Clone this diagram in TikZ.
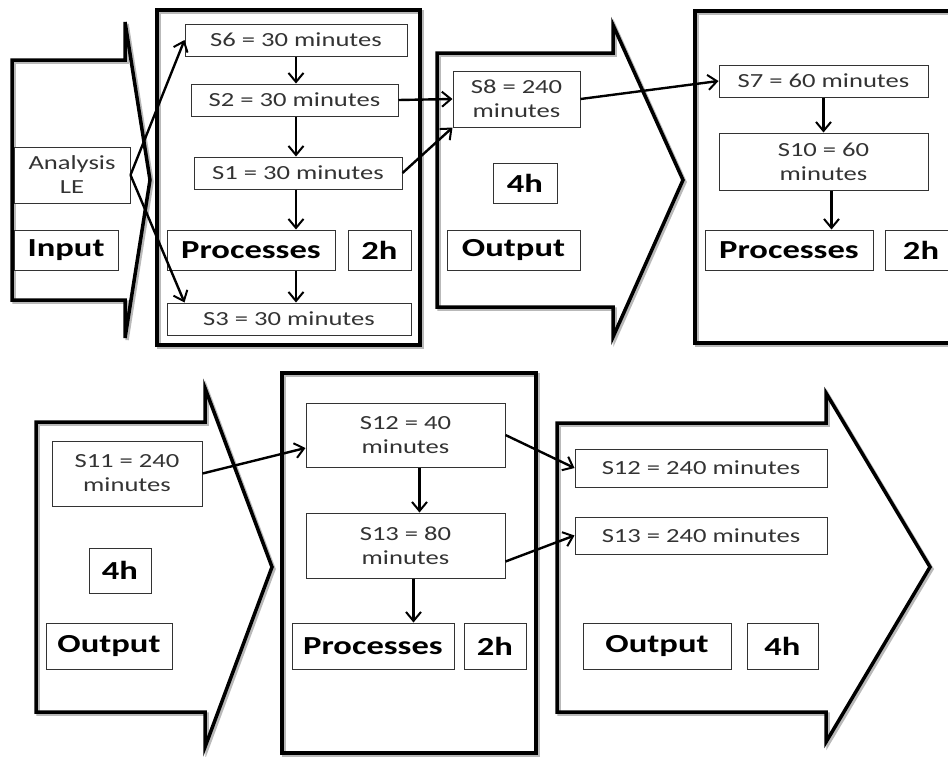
\documentclass[tikz,border=0pt]{standalone}
\usepackage{fontspec}
\setmainfont{Carlito}[FakeStretch=1.33]
\usetikzlibrary{arrows.meta}

\tikzset{
  timebox/.style={draw=gray!40!black, line width=1pt, fill=white, text=black!80,
    font=\fontsize{20}{24}\selectfont, align=center, inner sep=0pt},
  labelbox/.style={draw=gray!40!black, line width=1pt, fill=white,
    font=\fontsize{26}{30}\selectfont\bfseries, inner sep=0pt},
  flow/.style={-{Straight Barb[length=9pt,width=15pt,line width=2pt]}, line width=2.4pt},
  bigframe/.style={line width=3.5pt, line join=miter,
    preaction={draw=gray!55, line width=3.5pt, transform canvas={shift={(2pt,-2pt)}}}},
}

\begin{document}
\begin{tikzpicture}[x=1pt, y=-1pt]
\clip (0,0) rectangle (948,756);

% Big shapes: input/output arrows and process frames
\draw[bigframe] (12,60) -- (125,60) -- (125,22) -- (150,180) -- (125,338) -- (125,300) -- (12,300) -- cycle;
\draw[bigframe] (157,10) rectangle (420,345);
\draw[bigframe] (437,53) -- (613,53) -- (613,25) -- (683,180) -- (613,337) -- (613,307) -- (437,307) -- cycle;
\draw[bigframe] (695,11) rectangle (965,343);
\draw[bigframe] (36,422) -- (205,422) -- (205,388) -- (272,567) -- (205,747) -- (205,712) -- (36,712) -- cycle;
\draw[bigframe] (282,373) rectangle (536,753);
\draw[bigframe] (557,423) -- (826,423) -- (826,393) -- (930,567) -- (826,742) -- (826,712) -- (557,712) -- cycle;

% Top row
\node[timebox, minimum width=116, minimum height=56] (ana) at (72,175) {Analysis\\LE};
\node[labelbox, minimum width=104, minimum height=40] (in1) at (66,250) {Input};

\node[timebox, minimum width=222, minimum height=32] (s6) at (296,40) {S6 = 30 minutes};
\node[timebox, minimum width=207, minimum height=32] (s2) at (294.5,100) {S2 = 30 minutes};
\node[timebox, minimum width=208, minimum height=32] (s1) at (298,173) {S1 = 30 minutes};
\node[labelbox, minimum width=168, minimum height=40] (proc1) at (251,250) {Processes};
\node[labelbox, minimum width=63, minimum height=40] (hrs1) at (379.5,250) {2h};
\node[timebox, minimum width=244, minimum height=32] (s3) at (289,319) {S3 = 30 minutes};

\node[timebox, minimum width=127, minimum height=56] (s8) at (516.5,99) {S8 = 240\\minutes};
\node[labelbox, minimum width=64, minimum height=40] (hrs2) at (525,183) {4h};
\node[labelbox, minimum width=133, minimum height=40] (out1) at (513.5,250) {Output};

\node[timebox, minimum width=209, minimum height=32] (s7) at (823.5,81) {S7 = 60 minutes};
\node[timebox, minimum width=209, minimum height=57] (s10) at (823.5,161.5) {S10 = 60\\minutes};
\node[labelbox, minimum width=168, minimum height=40] (proc2) at (789,250) {Processes};
\node[labelbox, minimum width=72, minimum height=40] (hrs3) at (921,250) {2h};

% Bottom row
\node[timebox, minimum width=150, minimum height=65] (s11) at (127,473.5) {S11 = 240\\minutes};
\node[labelbox, minimum width=62, minimum height=45] (hrs4) at (120,570.5) {4h};
\node[labelbox, minimum width=126, minimum height=46] (out2) at (109,646) {Output};

\node[timebox, minimum width=199, minimum height=64] (s12a) at (405.5,435) {S12 = 40\\minutes};
\node[timebox, minimum width=199, minimum height=65] (s13a) at (405.5,545.5) {S13 = 80\\minutes};
\node[labelbox, minimum width=162, minimum height=46] (proc3) at (373,646) {Processes};
\node[labelbox, minimum width=62, minimum height=46] (hrs5) at (495,646) {2h};

\node[timebox, minimum width=252, minimum height=38] (s12b) at (701,468) {S12 = 240 minutes};
\node[timebox, minimum width=252, minimum height=37] (s13b) at (701,535.5) {S13 = 240 minutes};
\node[labelbox, minimum width=148, minimum height=46] (out3) at (657,646) {Output};
\node[labelbox, minimum width=71, minimum height=46] (hrs6) at (782.5,646) {4h};

% Connectors
\draw[flow] (ana.east) -- (s6.west);
\draw[flow] (ana.east) -- ([xshift=18pt]s3.north west);
\draw[flow] (s6.south) -- (s6.south |- s2.north);
\draw[flow] (s6.south |- s2.south) -- (s6.south |- s1.north);
\draw[flow] (s6.south |- s1.south) -- (s6.south |- proc1.north);
\draw[flow] (s6.south |- proc1.south) -- (s6.south |- s3.north);
\draw[flow] (s2.east) -- (s8.west);
\draw[flow] (s1.east) -- (s8.south west);
\draw[flow] (s8.east) -- (s7.west);
\draw[flow] (s7.south) -- (s7.south |- s10.north);
\draw[flow] ([xshift=8pt]s10.south) -- ([xshift=8pt]s10.south |- proc2.north);

\draw[flow] (s11.east) -- ([yshift=-13pt]s12a.west);
\draw[flow] ([xshift=14pt]s12a.south) -- ([xshift=14pt]s13a.north);
\draw[flow] ([xshift=8pt]s13a.south) -- ([xshift=8pt]s13a.south |- proc3.north);
\draw[flow] (s12a.east) -- (s12b.west);
\draw[flow] ([yshift=-16pt]s13a.east) -- (s13b.west);
\end{tikzpicture}
\end{document}
